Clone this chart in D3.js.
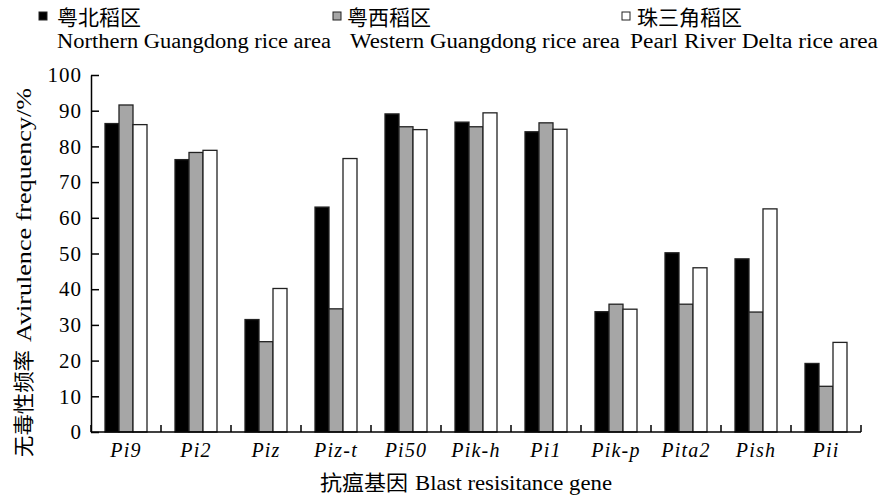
<!DOCTYPE html>
<html>
<head>
<meta charset="utf-8">
<script src="https://cdn.jsdelivr.net/npm/d3@7"></script>
<style>
  body { margin: 0; background: #fff; }
  svg { display: block; }
  svg text.serif { font-family: "Liberation Serif", "Times New Roman", serif; }
  svg text.cjk { font-family: "Noto Sans CJK SC", sans-serif; }
</style>
</head>
<body>
<div id="chart"></div>
<script>
// genes on the x axis
const genes = ["Pi9", "Pi2", "Piz", "Piz-t", "Pi50", "Pik-h", "Pi1", "Pik-p", "Pita2", "Pish", "Pii"];

// avirulence frequency (%) per rice area
const northern = [86.4, 76.3, 31.5, 63.0, 89.1, 86.8, 84.1, 33.7, 50.2, 48.5, 19.2];
const western  = [91.6, 78.3, 25.3, 34.5, 85.5, 85.5, 86.6, 35.8, 35.8, 33.6, 12.8];
const pearl    = [86.1, 78.9, 40.2, 76.6, 84.7, 89.4, 84.8, 34.4, 46.0, 62.5, 25.1];

const seriesNames = ["northern", "western", "pearl"];
const seriesCn = ["粤北稻区", "粤西稻区", "珠三角稻区"];
const seriesEn = ["Northern Guangdong rice area", "Western Guangdong rice area", "Pearl River Delta rice area"];
const yTicks = [0, 10, 20, 30, 40, 50, 60, 70, 80, 90, 100];

const width = 880, height = 498;
const margin = {top: 75, right: 20, bottom: 66, left: 91};

const svg = d3.select("#chart").append("svg")
    .attr("width", width)
    .attr("height", height);

const fills = {northern: "#000", western: "#a6a6a6", pearl: "#fff"};

const x0 = d3.scaleBand()
    .domain(genes)
    .range([margin.left, width - margin.right + 1])
    .paddingInner(0).paddingOuter(0);

const x1 = d3.scaleBand()
    .domain(seriesNames)
    .range([x0.bandwidth() * 0.2, x0.bandwidth() * 0.8]);

const y = d3.scaleLinear()
    .domain([0, 100])
    .range([height - margin.bottom, margin.top]);

const data = genes.map((g, i) => ({
    gene: g,
    northern: northern[i],
    western: western[i],
    pearl: pearl[i]
}));

// bars
const groups = svg.append("g").selectAll("g")
    .data(data)
    .join("g")
    .attr("transform", d => `translate(${x0(d.gene)},0)`);

groups.selectAll("rect")
    .data(d => seriesNames.map(k => ({key: k, value: d[k]})))
    .join("rect")
    .attr("x", d => x1(d.key))
    .attr("y", d => y(d.value))
    .attr("width", x1.bandwidth())
    .attr("height", d => y(0) - y(d.value))
    .attr("fill", d => fills[d.key])
    .attr("stroke", "#222")
    .attr("stroke-width", 1.3);

// y axis (ticks point inward)
const yAxis = svg.append("g")
    .attr("transform", `translate(${margin.left},0)`)
    .call(d3.axisLeft(y).tickValues(yTicks).tickSize(-8).tickPadding(9).tickSizeOuter(0));
yAxis.select(".domain").attr("stroke", "#000").attr("stroke-width", 1.5);
yAxis.selectAll(".tick line").attr("stroke", "#000").attr("stroke-width", 1.5);
yAxis.selectAll("text")
    .attr("class", "serif")
    .style("font-size", "21px")
    .attr("fill", "#000")
    .attr("letter-spacing", 1);

// x axis line and boundary ticks
const xAxis = svg.append("g");
xAxis.append("line")
    .attr("x1", x0.range()[0]).attr("x2", x0.range()[1])
    .attr("y1", y(0)).attr("y2", y(0))
    .attr("stroke", "#000").attr("stroke-width", 1.5);

const bounds = genes.map(g => x0(g) + x0.step()).concat([x0.range()[0]]);
xAxis.selectAll(".bt")
    .data(bounds)
    .join("line")
    .attr("x1", d => d).attr("x2", d => d)
    .attr("y1", y(0)).attr("y2", y(0) - 7)
    .attr("stroke", "#000").attr("stroke-width", 1.5);

xAxis.selectAll(".xl")
    .data(genes)
    .join("text")
    .attr("class", "serif")
    .attr("x", d => x0(d) + x0.bandwidth() / 2)
    .attr("y", y(0) + 25)
    .attr("text-anchor", "middle")
    .style("font-size", "20px")
    .style("font-style", "italic")
    .attr("letter-spacing", 1.2)
    .text(d => d);

// axis titles
svg.append("text")
    .attr("class", "cjk").style("font-size", "21px")
    .attr("x", 320).attr("y", 490)
    .attr("textLength", 88).attr("lengthAdjust", "spacingAndGlyphs")
    .text("抗瘟基因");
svg.append("text")
    .attr("class", "serif").style("font-size", "21px")
    .attr("x", 415).attr("y", 490)
    .attr("textLength", 197).attr("lengthAdjust", "spacingAndGlyphs")
    .text("Blast resisitance gene");

svg.append("text")
    .attr("class", "cjk").style("font-size", "21px")
    .attr("transform", "translate(31,457) rotate(-90)")
    .attr("textLength", 107).attr("lengthAdjust", "spacingAndGlyphs")
    .text("无毒性频率");
svg.append("text")
    .attr("class", "serif").style("font-size", "21px")
    .attr("transform", "translate(31,342) rotate(-90)")
    .attr("textLength", 254).attr("lengthAdjust", "spacingAndGlyphs")
    .text("Avirulence frequency/%");

// legend
const legendX = [39, 333, 622];
const legendTextX = [57, 347, 637];
const legendEnX = [57, 350, 630];
const legendEnW = [274, 270, 248];
const leg = svg.append("g").selectAll("g")
    .data(seriesNames)
    .join("g");

leg.append("rect")
    .attr("x", (d, i) => legendX[i])
    .attr("y", 12)
    .attr("width", 8).attr("height", 8)
    .attr("fill", d => fills[d])
    .attr("stroke", "#222")
    .attr("stroke-width", 1);

leg.append("text")
    .attr("class", "cjk")
    .attr("x", (d, i) => legendTextX[i])
    .attr("y", 25)
    .style("font-size", "21px")
    .text((d, i) => seriesCn[i]);

leg.append("text")
    .attr("class", "serif")
    .attr("x", (d, i) => legendEnX[i])
    .attr("y", 48)
    .style("font-size", "20px")
    .attr("textLength", (d, i) => legendEnW[i])
    .attr("lengthAdjust", "spacingAndGlyphs")
    .text((d, i) => seriesEn[i]);
</script>
</body>
</html>
